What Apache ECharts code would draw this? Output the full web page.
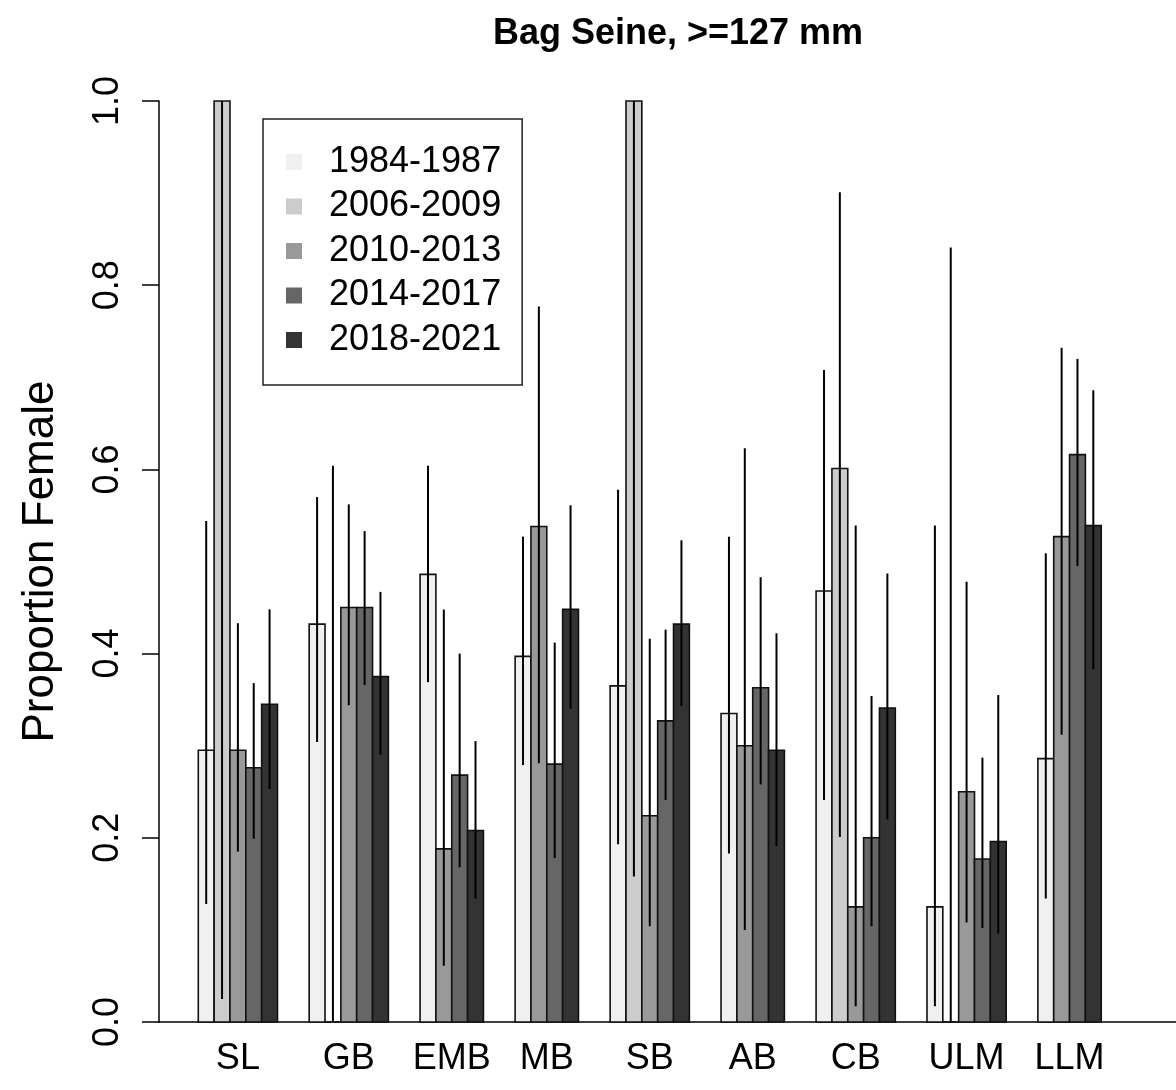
<!DOCTYPE html>
<html><head><meta charset="utf-8">
<script src="https://cdn.jsdelivr.net/npm/echarts@6/dist/echarts.min.js"></script>
<style>html,body{margin:0;padding:0;background:#fff}#c{width:1176px;height:1090px}</style>
</head><body><div id="c"></div>
<script>
// ---- data ----
const groups = ['SL', 'GB', 'EMB', 'MB', 'SB', 'AB', 'CB', 'ULM', 'LLM'];
const periods = ['1984-1987', '2006-2009', '2010-2013', '2014-2017', '2018-2021'];
const yTicks = [0, 0.2, 0.4, 0.6, 0.8, 1.0];

// proportion female (null = no bar)
const prop1984 = [0.295, 0.432, 0.486, 0.397, 0.365, 0.335, 0.468, 0.125, 0.286];
const prop2006 = [1.000, 0.000, null, null, 1.000, null, 0.601, 0.000, null];
const prop2010 = [0.295, 0.450, 0.188, 0.538, 0.224, 0.300, 0.125, 0.250, 0.527];
const prop2014 = [0.276, 0.450, 0.268, 0.280, 0.327, 0.363, 0.200, 0.177, 0.616];
const prop2018 = [0.345, 0.375, 0.208, 0.448, 0.432, 0.295, 0.341, 0.196, 0.539];

// lower / upper limits of the error bars
const low1984 = [0.128, 0.304, 0.369, 0.279, 0.193, 0.183, 0.241, 0.017, 0.134];
const high1984 = [0.544, 0.570, 0.604, 0.527, 0.578, 0.527, 0.708, 0.539, 0.509];
const low2006 = [0.025, 0.000, null, null, 0.158, null, 0.201, 0.000, null];
const high2006 = [1.000, 0.604, null, null, 1.000, null, 0.901, 0.841, null];
const low2010 = [0.185, 0.344, 0.061, 0.281, 0.104, 0.100, 0.017, 0.108, 0.312];
const high2010 = [0.433, 0.562, 0.448, 0.777, 0.416, 0.623, 0.539, 0.478, 0.732];
const low2014 = [0.199, 0.366, 0.168, 0.178, 0.241, 0.258, 0.104, 0.102, 0.495];
const high2014 = [0.368, 0.533, 0.400, 0.412, 0.426, 0.483, 0.354, 0.287, 0.720];
const low2018 = [0.253, 0.290, 0.134, 0.340, 0.343, 0.191, 0.220, 0.096, 0.383];
const high2018 = [0.448, 0.467, 0.305, 0.561, 0.523, 0.422, 0.487, 0.355, 0.686];

// ---- styles ----
const colors = ['#F0F0F0', '#CCCCCC', '#999999', '#666666', '#333333'];
const FONT = '"Liberation Sans", Arial, Helvetica, sans-serif';

const valueSets = [prop1984, prop2006, prop2010, prop2014, prop2018];
const lowSets = [low1984, low2006, low2010, low2014, low2018];
const highSets = [high1984, high2006, high2010, high2014, high2018];

// bar slots: bars of a group side by side, two empty slots between groups
const slotX = valueSets.map(() => []);
const groupCenters = [];
let cursor = 0;
groups.forEach((g, gi) => {
  let k = 0;
  valueSets.forEach((vals, si) => {
    if (vals[gi] !== null) { slotX[si][gi] = cursor + k + 0.5; k++; }
  });
  groupCenters.push(cursor + k / 2);
  cursor += k + 2;
});

function renderBar(params, api) {
  const x = api.value(0), v = api.value(1), lo = api.value(2), hi = api.value(3);
  const a = api.coord([x - 0.5, 0]);
  const b = api.coord([x + 0.5, v]);
  const c = api.coord([x, lo]);
  const d = api.coord([x, hi]);
  return {
    type: 'group',
    children: [
      { type: 'rect', shape: { x: a[0], y: b[1], width: b[0] - a[0], height: a[1] - b[1] },
        style: { fill: api.visual('color'), stroke: '#111', lineWidth: 1.6 } },
      { type: 'line', shape: { x1: c[0], y1: c[1], x2: d[0], y2: d[1] },
        style: { stroke: '#000', lineWidth: 2 } }
    ]
  };
}

const series = periods.map((p, si) => ({
  name: p,
  type: 'custom',
  renderItem: renderBar,
  itemStyle: { color: colors[si] },
  encode: { x: 0, y: 1 },
  data: groups.map((g, gi) => valueSets[si][gi] === null ? null :
    [slotX[si][gi], valueSets[si][gi], lowSets[si][gi], highSets[si][gi]]).filter(Boolean)
}));

const chart = echarts.init(document.getElementById('c'), null, { renderer: 'canvas' });
chart.setOption({
  backgroundColor: '#fff',
  animation: false,
  textStyle: { fontFamily: FONT, color: '#000' },
  title: {
    text: 'Bag Seine, >=127 mm', left: 673, top: 11, textAlign: 'center',
    textStyle: { fontFamily: FONT, fontSize: 36, fontWeight: 'bold', color: '#000' }
  },
  legend: {
    orient: 'vertical', left: 263, top: 119,
    padding: [23, 21, 25, 23],
    itemWidth: 16, itemHeight: 16, itemGap: 4.5,
    icon: 'rect',
    borderColor: '#222', borderWidth: 1.5,
    data: periods,
    textStyle: { fontFamily: FONT, fontSize: 36, lineHeight: 40, color: '#000', padding: [0, 0, 0, 22] }
  },
  grid: { left: 159, right: 0, top: 101, bottom: 68, containLabel: false },
  xAxis: {
    type: 'value', min: -2.48, max: 61.72,
    axisLine: { show: true, onZero: false, lineStyle: { color: '#000', width: 1.5 } },
    axisTick: { show: false },
    splitLine: { show: false },
    axisLabel: {
      customValues: groupCenters,
      margin: 19, fontSize: 36, fontFamily: FONT, color: '#000',
      formatter: (v) => {
        const i = groupCenters.findIndex(c => Math.abs(c - v) < 1e-6);
        return i >= 0 ? groups[i] : '';
      }
    }
  },
  yAxis: {
    type: 'value', min: 0, max: 1, interval: 0.2,
    axisLine: { show: true, onZero: false, lineStyle: { color: '#000', width: 1.5 } },
    axisTick: { show: true, length: 17, lineStyle: { color: '#000', width: 1.5 } },
    splitLine: { show: false },
    axisLabel: {
      rotate: 90, margin: 33, fontSize: 36, fontFamily: FONT, color: '#000',
      customValues: yTicks,
      formatter: (v) => v.toFixed(1)
    },
    name: 'Proportion Female', nameLocation: 'middle', nameRotate: 90, nameGap: 96,
    nameTextStyle: { fontSize: 44, fontFamily: FONT, color: '#000' }
  },
  series: series
});
</script>
</body></html>
